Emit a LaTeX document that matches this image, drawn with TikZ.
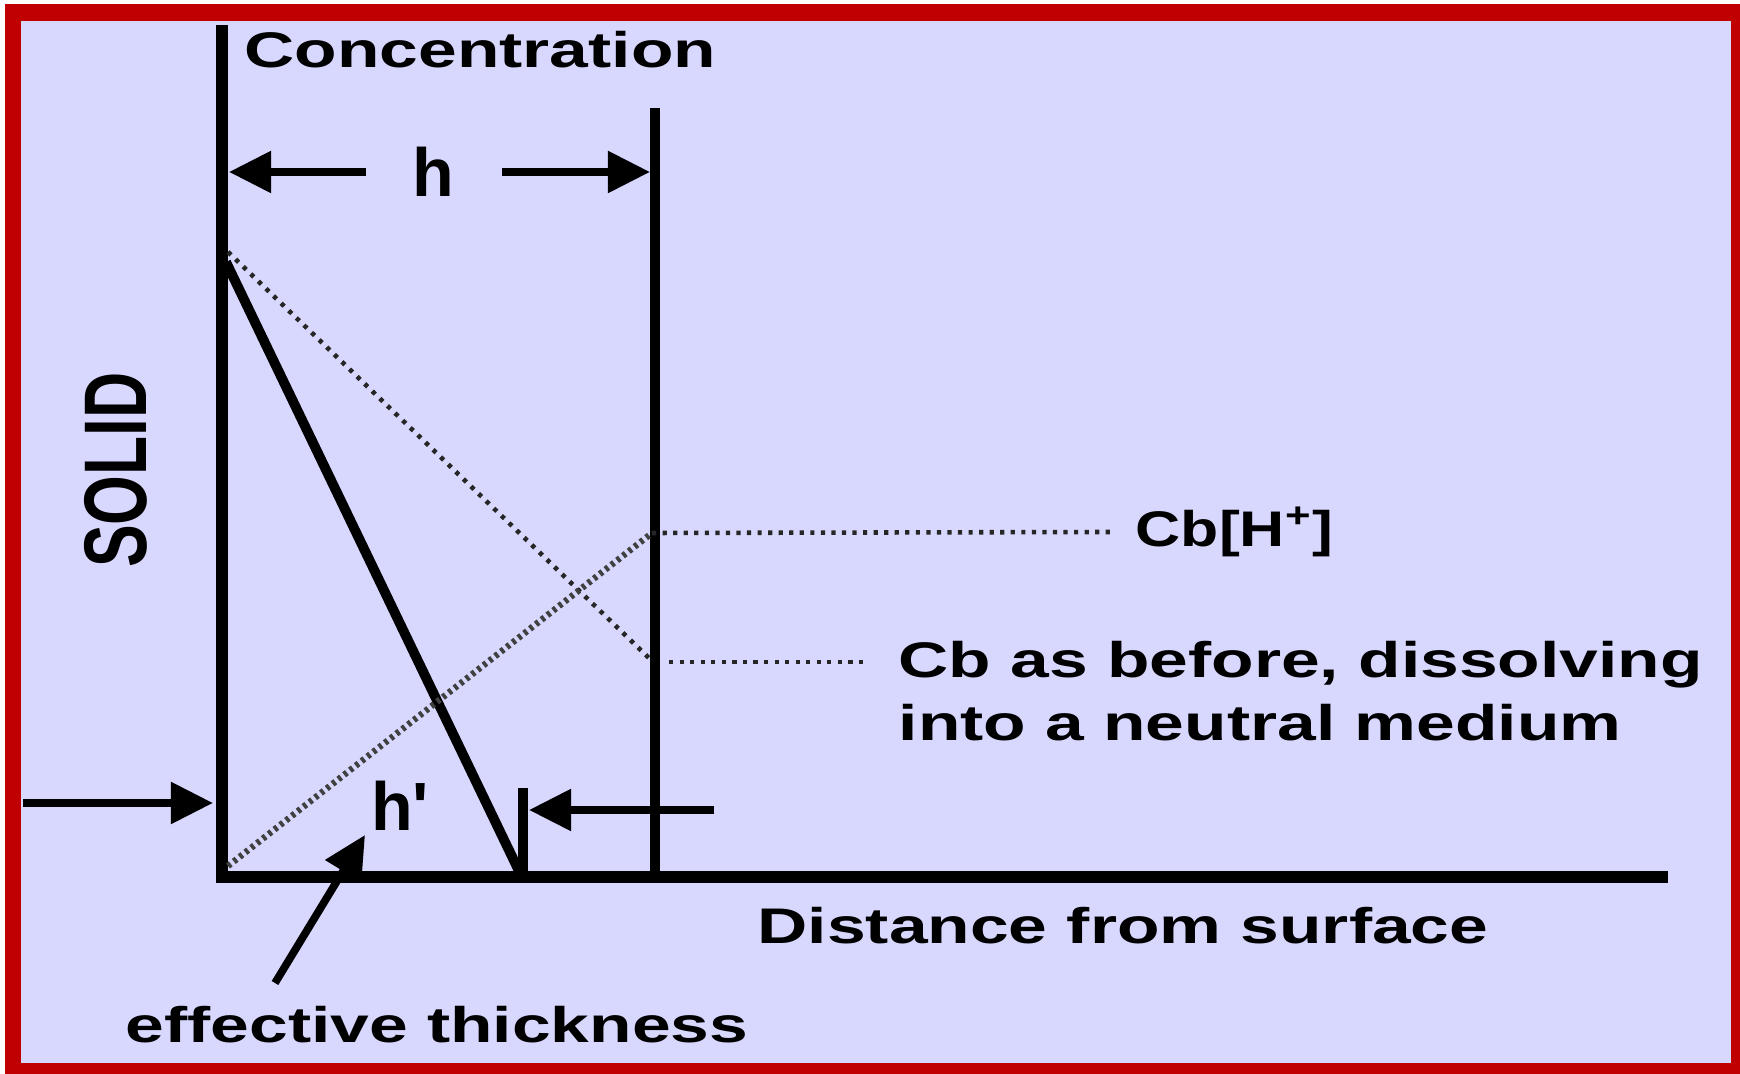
\documentclass[tikz,border=0pt]{standalone}
\usepackage{fontspec}
\setmainfont{Liberation Sans}
\usepackage{graphicx}
\usetikzlibrary{positioning, arrows.meta}

\definecolor{framered}{RGB}{192,0,0}
\definecolor{panel}{RGB}{216,216,255}

% the labels of the original are stretched sideways
\newcommand{\wide}[1]{\scalebox{1.39}[1]{#1}}

\begin{document}
\begin{tikzpicture}[
  x=0.01cm, y=-0.01cm,
  font=\bfseries\fontsize{14.23}{17.9}\selectfont,
  lbl/.style={inner sep=0pt, anchor=base west},
  big/.style={inner sep=0pt, font=\bfseries\fontsize{19.4}{23}\selectfont},
  axis/.style={line width=3.6pt, line join=miter},
  wall/.style={line width=2.6pt},
  profile/.style={line width=2.8pt},
  dim/.style={-{Triangle[length=12pt, width=11.5pt]}, line width=2.2pt},
  dots/.style={line width=1.3pt, dash pattern=on 1.2pt off 1.8pt, draw=black!85},
  hdots/.style={line width=1.8pt, dash pattern=on 1pt off 1.1pt, draw=black!75},
]

% frame
\useasboundingbox (0,0) rectangle (1740,1074);
\fill[white] (0,0) rectangle (1740,1074);
\fill[framered] (5,4) rectangle (1740,1074);
\fill[panel] (21,21) rectangle (1731,1063);

% key points
\coordinate (top) at (222,25);
\coordinate (origin) at (222,877);
\coordinate (xend) at (1668,877);
\coordinate (walltop) at (655,108);
\coordinate (wallbot) at (655,877);
\coordinate (c0) at (226,262);
\coordinate (c1) at (519,871);
\coordinate (cs) at (228,252);
\coordinate (cb) at (651,660);
\coordinate (cbs) at (669,662);
\coordinate (cbe) at (869,662);
\coordinate (ch) at (228,866);
\coordinate (cw) at (652,533);
\coordinate (hend) at (1113,532);
\coordinate (hl) at (366,172);
\coordinate (hlt) at (229,172);
\coordinate (hr) at (502,172);
\coordinate (hrt) at (650,172);
\coordinate (ql) at (23,803);
\coordinate (qlt) at (213,803);
\coordinate (tk) at (523,788);
\coordinate (tkb) at (523,874);
\coordinate (qr) at (714,810);
\coordinate (qrt) at (529,810);
\coordinate (et) at (275,983);
\coordinate (eh) at (365,835);

% axes and boundary layer
\draw[axis] (top) -- (origin) -- (xend);
\draw[wall] (walltop) -- (wallbot);

% concentration profiles
\draw[profile] (c0) -- (c1);
\draw[dots] (cs) -- (cb);
\draw[dots] (cbs) -- (cbe);
\draw[hdots] (ch) -- (cw);
\draw[dots] (cw) -- (hend);

% labels
\node[lbl] (conc) at (244,68) {\wide{Concentration}};
\node[inner sep=0pt, rotate=90, font=\bfseries\fontsize{18.2}{22}\selectfont] (solid) at (116,470)
  {\scalebox{1}[1.39]{SOLID}};
\node[lbl] (dist) at (757,943) {\wide{Distance from surface}};
\node[lbl] (eff) at (125,1042) {\wide{effective thickness}};
\node[inner sep=0pt, anchor=west, right=0.22cm of hend] (cbh)
  {\scalebox{1.25}[1]{Cb[H\textsuperscript{+}]}};
\node[inner sep=0pt, anchor=north west, align=left] (cbn) at (898,641)
  {\wide{Cb as before, dissolving}\\\wide{into a neutral medium}};

% h and h'
\node[big] (h) at (433,172) {h};
\draw[dim] (hl) -- (hlt);
\draw[dim] (hr) -- (hrt);

\node[big] (hp) at (400,806) {h\textquotesingle};
\draw[dim] (ql) -- (qlt);
\draw[profile] (tk) -- (tkb);
\draw[dim] (qr) -- (qrt);
\draw[dim] (et) -- (eh);

\end{tikzpicture}
\end{document}
